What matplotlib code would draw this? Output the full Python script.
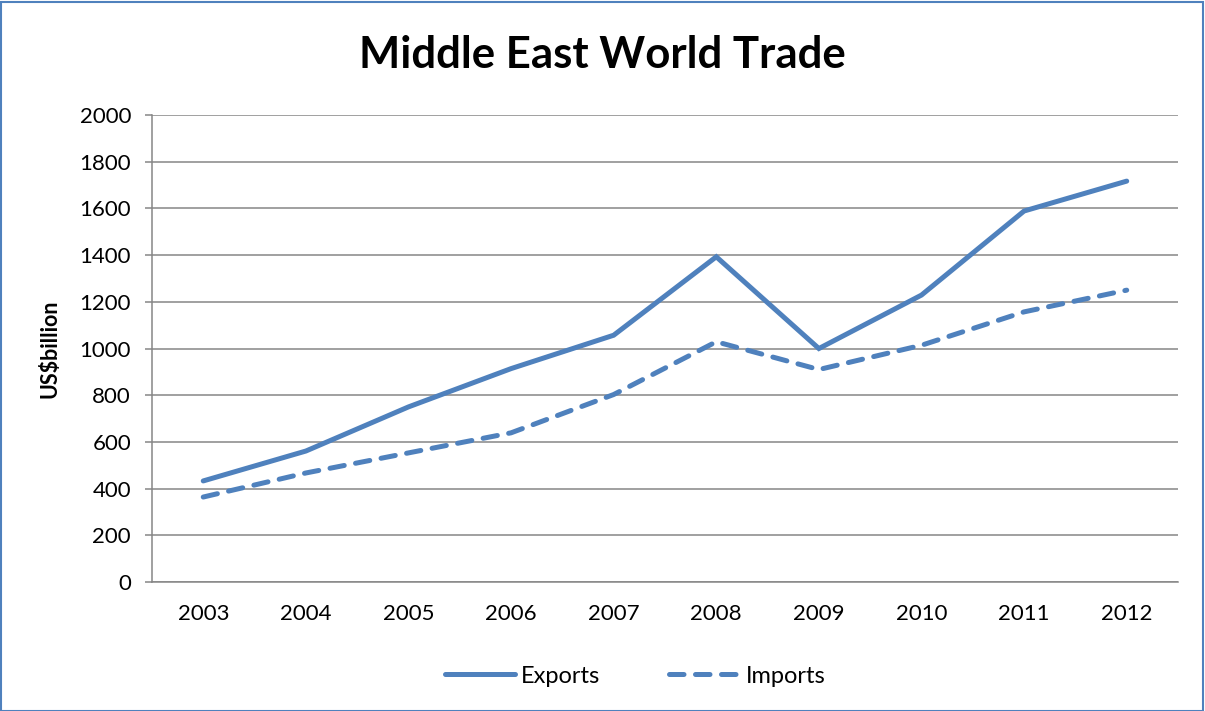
import matplotlib
matplotlib.use("Agg")
import matplotlib.pyplot as plt
from matplotlib.patches import Rectangle
import numpy as np

YEARS = ["2003", "2004", "2005", "2006", "2007", "2008", "2009", "2010", "2011", "2012"]
EXPORTS = [433, 561, 750, 914, 1057, 1393, 1000, 1229, 1589, 1717]
IMPORTS = [364, 467, 553, 639, 803, 1029, 910, 1014, 1157, 1250]

LINE_COLOR = "#4F81BD"
GRID_COLOR = "#868686"
FONT = ["Lato", "DejaVu Sans"]

plt.rcParams["font.family"] = FONT

fig = plt.figure(figsize=(12.05, 7.11), dpi=100)
ax = fig.add_axes([0.1261, 0.1814, 0.8515, 0.6568])

x = np.arange(len(YEARS))
ax.plot(x, EXPORTS, color=LINE_COLOR, linewidth=3.6, solid_capstyle="round",
        solid_joinstyle="miter", label="Exports", zorder=3)
ax.plot(x, IMPORTS, color=LINE_COLOR, linewidth=3.6, dashes=(2.9, 2.3),
        dash_capstyle="round", label="Imports", zorder=3)

ax.set_xlim(-0.5, len(YEARS) - 0.5)
ax.set_ylim(0, 2000)
ax.set_yticks(np.arange(0, 2001, 200))
ax.set_xticks(x)
ax.set_xticklabels(YEARS)
ax.tick_params(axis="x", length=0, pad=16, labelsize=16)
ax.tick_params(axis="y", length=5, width=1.1, color=GRID_COLOR, pad=10, labelsize=16)
ax.grid(axis="y", color=GRID_COLOR, linewidth=1.1)
ax.set_axisbelow(True)

for side in ["top", "right"]:
    ax.spines[side].set_visible(False)
for side in ["left", "bottom"]:
    ax.spines[side].set_color(GRID_COLOR)
    ax.spines[side].set_linewidth(1.1)

ax.set_ylabel("US$billion", fontsize=15.5, fontweight="bold", labelpad=14)
fig.text(0.5, 0.922, "Middle East World Trade", ha="center", va="center",
         fontsize=31.5, fontweight="bold")

fig.legend(loc="center", bbox_to_anchor=(0.527, 0.049), ncol=2, frameon=False,
           fontsize=17, handlelength=3.0, columnspacing=2.9, handletextpad=0.25)

fig.patches.append(Rectangle((0.001, 0.0), 0.997, 0.997, transform=fig.transFigure,
                             fill=False, edgecolor=LINE_COLOR, linewidth=1.5))

fig.savefig("out.png", dpi=100)
